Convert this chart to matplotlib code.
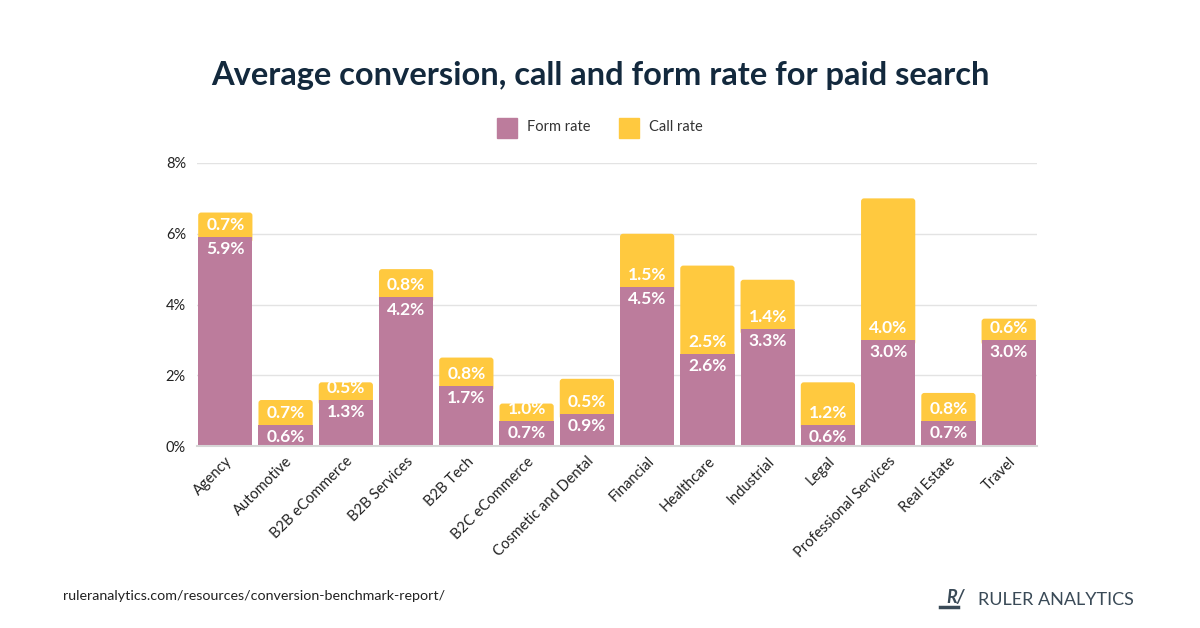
import matplotlib
matplotlib.use("Agg")
import matplotlib.pyplot as plt
from matplotlib.patches import Rectangle, FancyBboxPatch
from matplotlib.lines import Line2D

plt.rcParams['font.family'] = ['Lato', 'DejaVu Sans']

categories = ["Agency", "Automotive", "B2B eCommerce", "B2B Services", "B2B Tech",
              "B2C eCommerce", "Cosmetic and Dental", "Financial", "Healthcare",
              "Industrial", "Legal", "Professional Services", "Real Estate", "Travel"]
form_rate = [5.9, 0.6, 1.3, 4.2, 1.7, 0.7, 0.9, 4.5, 2.6, 3.3, 0.6, 3.0, 0.7, 3.0]
# drawn call-rate segment heights (as shown in the picture)
call_rate = [0.7, 0.7, 0.5, 0.8, 0.8, 0.5, 1.0, 1.5, 2.5, 1.4, 1.2, 4.0, 0.8, 0.6]
# call-rate labels as printed on the chart
call_labels = ["0.7%", "0.7%", "0.5%", "0.8%", "0.8%", "1.0%", "0.5%", "1.5%", "2.5%",
               "1.4%", "1.2%", "4.0%", "0.8%", "0.6%"]
yticks = [0, 2, 4, 6, 8]

FORM = "#BC7C9C"
CALL = "#FFC93F"
TITLE = "#13293D"

fig = plt.figure(figsize=(12, 6.28), dpi=100)
ax = fig.add_axes([197/1200, 1 - 446/628, (1037-197)/1200, (446-163)/628])

x = list(range(len(categories)))
w = 0.9
form_bars = ax.bar(x, form_rate, width=w, color=FORM, zorder=4)
call_bars = ax.bar(x, call_rate, width=w, bottom=form_rate, color=CALL, zorder=3)

# give the call segments slightly rounded top corners
r = 0.05
for p in call_bars:
    x0, y0 = p.get_x(), p.get_y()
    pw, ph = p.get_width(), p.get_height()
    p.set_visible(False)
    fb = FancyBboxPatch((x0, y0 - 0.15), pw, ph + 0.15,
                        boxstyle=f"round,pad=0,rounding_size={r}", mutation_aspect=1.7,
                        facecolor=CALL, edgecolor="none", zorder=3)
    ax.add_patch(fb)

for i, (f, cl) in enumerate(zip(form_rate, call_labels)):
    ax.annotate(f"{f:.1f}%", (i, f), xytext=(0, -3), textcoords="offset points",
                ha="center", va="top", color="white", fontsize=12.5, fontweight="bold", zorder=5)
    ax.annotate(cl, (i, f), xytext=(0, 3), textcoords="offset points",
                ha="center", va="bottom", color="white", fontsize=12.5, fontweight="bold", zorder=5)

ax.set_xlim(-0.47, len(categories) - 0.53)
ax.set_ylim(0, 8)
ax.set_yticks(yticks)
ax.set_yticklabels([f"{t}%" for t in yticks])
ax.set_xticks(x)
ax.set_xticklabels(categories, rotation=45, ha="right", rotation_mode="anchor")
ax.tick_params(axis="both", length=0, labelsize=10.5, colors="#222222")
ax.tick_params(axis="y", pad=8)
ax.tick_params(axis="x", pad=6)
ax.grid(axis="y", color="#e3e3e3", linewidth=1, zorder=0)
for s in ["top", "right", "left"]:
    ax.spines[s].set_visible(False)
ax.spines["bottom"].set_color("#d6d6d6")
ax.spines["bottom"].set_linewidth(1.5)
ax.spines["bottom"].set_zorder(6)

fig.text(0.5, 1 - 75/628, "Average conversion, call and form rate for paid search",
         ha="center", va="center", fontsize=23.5, fontweight="bold", color=TITLE)

# legend
fig.patches.append(Rectangle((497/1200, 1 - 138/628), 20/1200, 20/628, transform=fig.transFigure,
                             color=FORM, figure=fig))
fig.text(527/1200, 1 - 127/628, "Form rate", ha="left", va="center", fontsize=10.5, color="#333333")
fig.patches.append(Rectangle((619/1200, 1 - 138/628), 20/1200, 20/628, transform=fig.transFigure,
                             color=CALL, figure=fig))
fig.text(649/1200, 1 - 127/628, "Call rate", ha="left", va="center", fontsize=10.5, color="#333333")

fig.text(63/1200, 1 - 596/628, "ruleranalytics.com/resources/conversion-benchmark-report/",
         ha="left", va="center", fontsize=10.3, color="#222222")

# logo
LOGO = "#3A4A57"
fig.text(946/1200, 1 - 598/628, "R/", ha="left", va="center", fontsize=13, fontweight="bold",
         fontstyle="italic", color=LOGO)
fig.lines.append(Line2D([940/1200, 958/1200], [1 - 607/628, 1 - 607/628], transform=fig.transFigure,
                        color=LOGO, linewidth=2.5))
fig.text(978/1200, 1 - 600/628, "RULER ANALYTICS", ha="left", va="center", fontsize=13,
         fontweight="normal", color=LOGO)

fig.savefig("out.png", dpi=100, facecolor="white")
